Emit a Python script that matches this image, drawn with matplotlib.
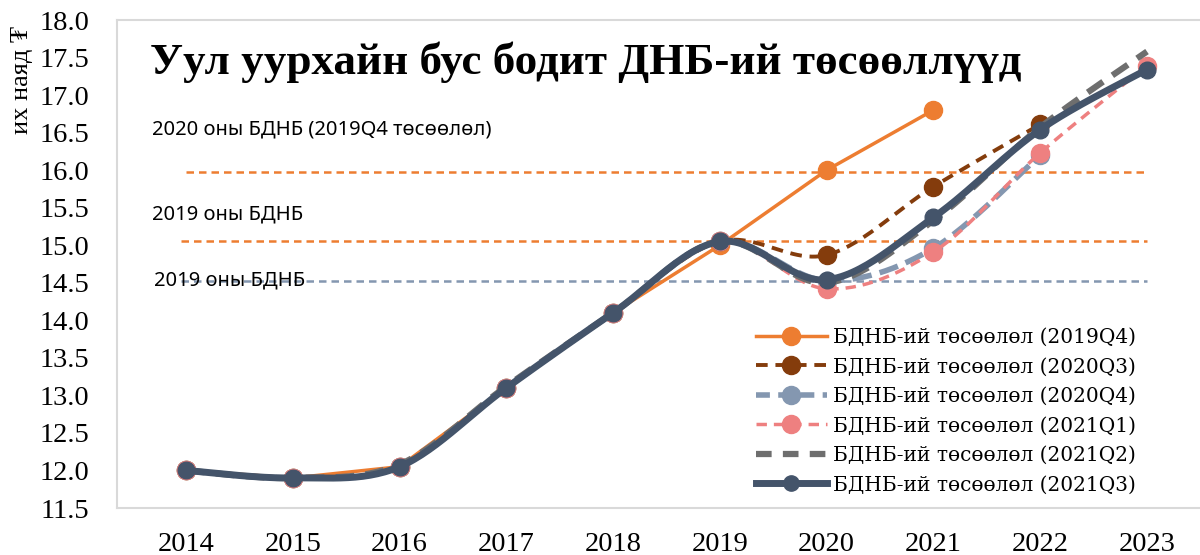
import numpy as np
import matplotlib
matplotlib.use("Agg")
import matplotlib.pyplot as plt
from matplotlib.lines import Line2D

# ---------------- data ----------------
years = [2014, 2015, 2016, 2017, 2018, 2019, 2020, 2021, 2022, 2023]
nan = np.nan
f_2019q4 = [12.0, 11.9, 12.05, 13.1, 14.1, 15.0, 16.0, 16.8, nan, nan]
f_2020q3 = [12.0, 11.9, 12.05, 13.1, 14.1, 15.05, 14.87, 15.78, 16.61, nan]
f_2020q4 = [12.0, 11.9, 12.05, 13.1, 14.1, 15.05, 14.53, 14.96, 16.2, nan]
f_2021q1 = [12.0, 11.9, 12.05, 13.1, 14.1, 15.05, 14.42, 14.91, 16.23, 17.39]
f_2021q2 = [12.0, 11.9, 12.08, 13.12, 14.1, 15.05, 14.5, 15.33, 16.57, 17.58]
f_2021q3 = [12.0, 11.9, 12.05, 13.1, 14.1, 15.05, 14.54, 15.37, 16.54, 17.34]

ref_2020_gdp = 15.98   # 2020 оны БДНБ (2019Q4 төсөөлөл)
ref_2019_gdp = 15.05   # 2019 оны БДНБ
ref_2019_gdp_b = 14.53 # 2019 оны БДНБ

series_labels = ["БДНБ-ий төсөөлөл (2019Q4)", "БДНБ-ий төсөөлөл (2020Q3)",
                 "БДНБ-ий төсөөлөл (2020Q4)", "БДНБ-ий төсөөлөл (2021Q1)",
                 "БДНБ-ий төсөөлөл (2021Q2)", "БДНБ-ий төсөөлөл (2021Q3)"]
ref_labels = ["2020 оны БДНБ (2019Q4 төсөөлөл)", "2019 оны БДНБ", "2019 оны БДНБ"]
title = "Уул уурхайн бус бодит ДНБ-ий төсөөллүүд"
ylabel = "их наяд ₮"

SERIF = ["Liberation Serif", "DejaVu Serif"]
SERIF2 = ["DejaVu Serif"]
SANS = ["Noto Sans", "DejaVu Sans"]


def smooth(xs, ys, n=30):
    """Excel-like smoothed line (Catmull-Rom Bezier) through the data points."""
    xs = np.asarray(xs, float); ys = np.asarray(ys, float)
    m = ~np.isnan(ys)
    xs, ys = xs[m], ys[m]
    P = np.column_stack([xs, ys])
    out = []
    k = len(P)
    for i in range(k - 1):
        p0 = P[i - 1] if i > 0 else P[i]
        p1 = P[i]
        p2 = P[i + 1]
        p3 = P[i + 2] if i + 2 < k else P[i + 1]
        b1 = p1 + (p2 - p0) / 6.0
        b2 = p2 - (p3 - p1) / 6.0
        t = np.linspace(0, 1, n)[:, None]
        seg = ((1 - t) ** 3) * p1 + 3 * ((1 - t) ** 2) * t * b1 + 3 * (1 - t) * t ** 2 * b2 + t ** 3 * p2
        out.append(seg if i == 0 else seg[1:])
    s = np.vstack(out)
    return s[:, 0], s[:, 1]


fig = plt.figure(figsize=(12, 5.55), dpi=100)
W, H = 1200, 555
ax = fig.add_axes([117 / W, 1 - 508 / H, (1200 - 117) / W + 0.01, (508 - 20) / H])
px_per_year = (1147 - 186) / 9.0
ax.set_xlim(2014 - (186 - 117) / px_per_year, 2014 + (1212 - 186) / px_per_year)
ax.set_ylim(11.5, 18.0)

for s in ax.spines.values():
    s.set_color("#d9d9d9")
    s.set_linewidth(1.5)
ax.spines["right"].set_visible(False)

ax.set_xticks(years)
ax.set_xticklabels([str(y) for y in years], family=SERIF, fontsize=20.5)
yt = np.arange(11.5, 18.01, 0.5)
ax.set_yticks(yt)
ax.set_yticklabels([f"{v:.1f}" for v in yt], family=SERIF, fontsize=20.5)
ax.tick_params(axis="both", length=0)
ax.tick_params(axis="x", pad=17)
ax.tick_params(axis="y", pad=20)

# reference lines
ax.plot([2014, 2023], [ref_2020_gdp] * 2, color="#ED7D31", lw=1.8, ls=(0, (3, 2)), zorder=1)
ax.plot([2013.95, 2023], [ref_2019_gdp] * 2, color="#ED7D31", lw=1.8, ls=(0, (3, 2)), zorder=1)
ax.plot([2013.95, 2023], [ref_2019_gdp_b] * 2, color="#8497B0", lw=1.8, ls=(0, (3, 2)), zorder=1)

ax.text(2013.68, 16.54, ref_labels[0], family=SANS, fontsize=14.5, va="center", ha="left")
ax.text(2013.68, 15.41, ref_labels[1], family=SANS, fontsize=14.5, va="center", ha="left")
ax.text(2013.70, 14.53, ref_labels[2], family=SANS, fontsize=14.5, va="center", ha="left", zorder=5)

# series
# 2019Q4 - straight line
yv = np.array(f_2019q4)
mk = ~np.isnan(yv)
ax.plot(np.array(years)[mk], yv[mk], color="#ED7D31", lw=2.5, marker="o", ms=13,
        zorder=3)

styles = [
    (f_2020q3, "#843C0C", 2.8, (0, (3, 2)), "o", 13),
    (f_2020q4, "#8497B0", 4.0, (0, (3.5, 1.5)), "o", 13),
    (f_2021q1, "#EE8080", 2.5, (0, (3, 2)), "o", 13),
    (f_2021q2, "#6E6E6E", 4.5, (0, (3, 1.8)), None, 0),
    (f_2021q3, "#44546A", 5.0, "-", "o", 12),
]
z = 4
for vals, col, lw, ls, mkr, ms in styles:
    sx, sy = smooth(years, vals)
    ax.plot(sx, sy, color=col, lw=lw, ls=ls, zorder=z, solid_capstyle="round")
    if mkr:
        v = np.array(vals)
        m = ~np.isnan(v)
        ax.plot(np.array(years)[m], v[m], ls="none", marker=mkr, ms=ms, color=col, zorder=z)
    z += 1

# legend
handles = [
    Line2D([], [], color="#ED7D31", lw=2.5, marker="o", ms=13),
    Line2D([], [], color="#843C0C", lw=2.8, ls=(0, (3, 2)), marker="o", ms=13),
    Line2D([], [], color="#8497B0", lw=4.0, ls=(0, (2.5, 1.5)), marker="o", ms=13),
    Line2D([], [], color="#EE8080", lw=2.5, ls=(0, (3, 2)), marker="o", ms=13),
    Line2D([], [], color="#6E6E6E", lw=4.5, ls=(0, (2.5, 1.8))),
    Line2D([], [], color="#44546A", lw=5.0, marker="o", ms=11),
]
leg = ax.legend(handles, series_labels, loc="upper left",
                bbox_to_anchor=((748 - 117) / (1200 - 117 + 12), 1 - (320 - 20) / 488),
                frameon=False, prop={"family": SERIF2, "size": 14.5},
                handlelength=3.5, handletextpad=0.3, labelspacing=0.52, numpoints=1,
                borderaxespad=0)

fig.text(150 / W, 1 - 62 / H, title, family=SERIF, fontweight="bold", fontsize=32.5,
         va="center", ha="left")
fig.text(22 / W, 1 - 80 / H, ylabel, family=SERIF, fontsize=19, rotation=90,
         va="center", ha="center")

fig.savefig("out.png", dpi=100)
